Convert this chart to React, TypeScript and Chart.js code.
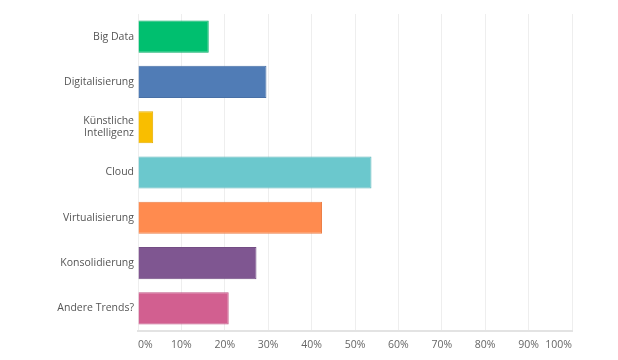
import React, { useEffect, useRef } from "react";
import { Chart, registerables } from "chart.js";

Chart.register(...registerables);

const categories: (string | string[])[] = [
  "Big Data",
  "Digitalisierung",
  ["Künstliche", "Intelligenz"],
  "Cloud",
  "Virtualisierung",
  "Konsolidierung",
  "Andere Trends?",
];
const values = [16.3, 29.6, 3.5, 53.8, 42.4, 27.3, 20.9];
const barColors = ["#00bf6f", "#507cb6", "#f9be00", "#6bc8cd", "#ff8b4f", "#7f5691", "#d25f90"];
const borderColors = ["#00ad64", "#4870a6", "#e5ae00", "#60b8bd", "#ec7f48", "#734d84", "#c05483"];
const xTicks = [0, 10, 20, 30, 40, 50, 60, 70, 80, 90, 100];

export default function App() {
  const ref = useRef<HTMLCanvasElement | null>(null);
  useEffect(() => {
    document.body.style.margin = "0";
    const ctx = ref.current!;
    const chart = new Chart(ctx, {
      type: "bar",
      data: {
        labels: categories,
        datasets: [
          {
            data: values,
            backgroundColor: barColors,
            borderColor: borderColors,
            borderWidth: 1,
            categoryPercentage: 1,
            barPercentage: 0.71,
          },
        ],
      },
      options: {
        indexAxis: "y",
        animation: false,
        responsive: false,
        maintainAspectRatio: false,
        layout: { padding: { top: 14, right: 46, bottom: 0, left: 0 } },
        plugins: { legend: { display: false }, tooltip: { enabled: false } },
        scales: {
          x: {
            min: 0,
            max: 100,
            afterBuildTicks: (s: any) => {
              s.ticks = xTicks.map((v) => ({ value: v }));
            },
            afterFit: (s: any) => {
              s.height = 29;
            },
            ticks: {
              callback: (v: any) => v + "%",
              font: { family: "Open Sans", size: 10.5 },
              color: "#666",
              padding: 8,
              align: "inner",
              maxRotation: 0,
              autoSkip: false,
            },
            grid: { color: "#eeeeee", lineWidth: 1, drawTicks: false },
            border: { display: true, color: "#e3e3e3", width: 2 },
          },
          y: {
            afterFit: (s: any) => {
              s.width = 138;
            },
            ticks: {
              font: { family: "Open Sans", size: 10.5 },
              color: "#555",
              padding: 4,
            },
            grid: { display: false, drawTicks: false },
            border: { display: false },
          },
        },
      },
    } as any);
    return () => chart.destroy();
  }, []);
  return (
    <div style={{ width: 618, height: 360, background: "#fff" }}>
      <canvas ref={ref} width={618} height={360} style={{ display: "block" }} />
    </div>
  );
}
